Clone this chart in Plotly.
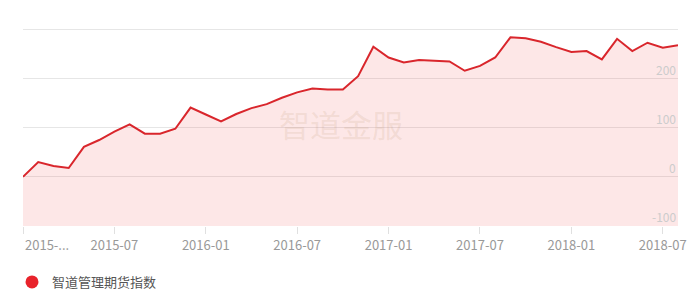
import plotly.graph_objects as go

# monthly data 2015-01 .. 2018-08
months = [f"{y}-{m:02d}" for y in range(2015, 2019) for m in range(1, 13)][:44]
values = [0, 30, 22, 18, 61, 75, 92, 107, 88, 88, 98, 141,
          127, 113, 128, 140, 148, 161, 172, 180, 178, 178, 205, 265,
          243, 233, 238, 237, 235, 216, 226, 243, 284, 282, 275, 264,
          254, 256, 239, 281, 256, 273, 263, 268]
series_name = "智道管理期货指数"
tick_months = ["2015-01", "2015-07", "2016-01", "2016-07", "2017-01", "2017-07", "2018-01", "2018-07"]
tick_labels = ["", "2015-07", "2016-01", "2016-07", "2017-01", "2017-07", "2018-01", "2018-07"]
first_label = "2015-..."
y_ticks = [-100, 0, 100, 200, 300]
y_labels = ["-100", "0", "100", "200", ""]
y_min = -100
y_max = 303

FONT = "Noto Sans CJK SC, Noto Sans, sans-serif"

fig = go.Figure()
# baseline for area fill down to the axis minimum
fig.add_trace(go.Scatter(x=months, y=[y_min] * len(months), mode="lines",
                         line=dict(width=0), showlegend=False, hoverinfo="skip"))
fig.add_trace(go.Scatter(x=months, y=values, mode="lines", name=series_name,
                         line=dict(color="#d9262c", width=2),
                         fill="tonexty", fillcolor="rgba(235,60,60,0.12)",
                         showlegend=False))
# legend entry (marker)
fig.add_trace(go.Scatter(x=[None], y=[None], mode="markers", name=series_name,
                         marker=dict(color="#e8232b", size=13, symbol="circle"),
                         showlegend=True))

fig.add_annotation(text="智道金服", x=0.485, y=0.52, xref="paper", yref="paper",
                   xanchor="center", yanchor="middle", showarrow=False,
                   font=dict(family=FONT, size=31, color="rgba(190,155,120,0.18)"))
fig.add_annotation(text=first_label, x=0, y=0, xref="paper", yref="paper",
                   xanchor="left", yanchor="top", yshift=-7, xshift=0, showarrow=False,
                   font=dict(family=FONT, size=13, color="#999999"))
# y-axis labels drawn inside the plot, above their gridlines
for v, lab in zip(y_ticks, y_labels):
    if lab:
        fig.add_annotation(text=lab, x=1, y=v, xref="paper", yref="y",
                           xanchor="right", yanchor="bottom", yshift=-1, showarrow=False,
                           font=dict(family=FONT, size=12, color="#cccccc"))

fig.update_layout(
    width=700, height=303,
    margin=dict(l=23, r=22, t=28, b=77, autoexpand=False),
    paper_bgcolor="white", plot_bgcolor="white",
    font=dict(family=FONT),
    xaxis=dict(type="category", range=[0, len(months) - 1],
               tickvals=tick_months, ticktext=tick_labels,
               ticks="outside", ticklen=7, tickcolor="#e0e0e0", tickwidth=1,
               tickfont=dict(size=13, color="#999999"),
               automargin=False,
               showgrid=False, showline=False, zeroline=False),
    yaxis=dict(range=[y_min, y_max], side="right",
               tickvals=y_ticks, showticklabels=False, automargin=False,
               gridcolor="#e6e6e6", gridwidth=1, zeroline=False, showline=False),
    legend=dict(orientation="h", x=-0.0168, y=-0.207, xanchor="left", yanchor="top",
                font=dict(size=13, color="#555555"), bgcolor="rgba(0,0,0,0)"),
    showlegend=True,
)

fig.write_html("out.html")
